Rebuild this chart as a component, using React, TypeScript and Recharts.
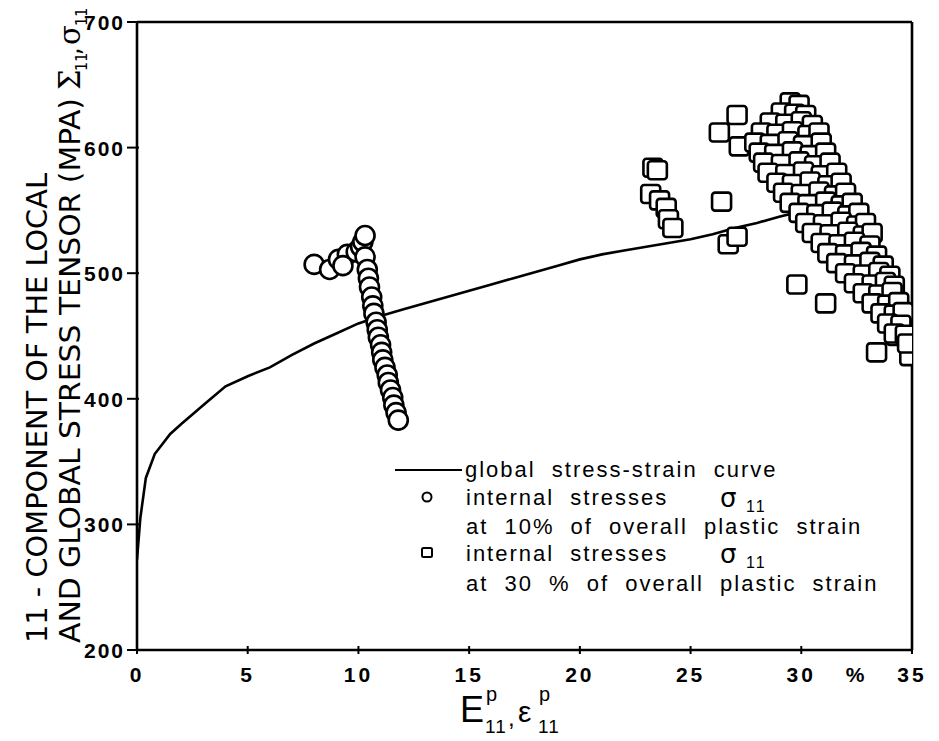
import { ComposedChart, Line, Scatter, XAxis, YAxis, ReferenceLine, Label } from 'recharts';

// global stress-strain curve
const curveStrain = [0, 0.15, 0.4, 0.8, 1.5, 2, 3, 4, 5, 6, 7, 8, 9, 10, 11, 12, 13, 14, 15, 16, 17, 18, 19, 20, 21, 22, 23, 24, 25, 26, 27, 28, 29, 29.7];
const curveStress = [272, 305, 337, 356, 372, 380, 395, 410, 418, 425, 435, 444, 452, 460, 466, 471, 476, 481, 486, 491, 496, 501, 506, 511, 515, 518, 521, 524, 527, 531, 536, 540, 545, 548];

// internal stresses at 10 %
const circleStrain = [8.0, 8.7, 9.1, 9.5, 9.9, 10.1, 9.3, 10.2, 10.3, 10.3, 10.4, 10.45, 10.5, 10.6, 10.65, 10.7, 10.8, 10.85, 10.9, 11.0, 11.05, 11.1, 11.2, 11.3, 11.35, 11.45, 11.55, 11.6, 11.7, 11.8];
const circleStress = [507, 503, 511, 515, 517, 521, 506, 525, 530, 513, 503, 496, 489, 481, 474, 468, 461, 455, 449, 443, 437, 431, 425, 419, 413, 407, 401, 395, 389, 383];

// internal stresses at 30 %
const squareStrain = [
  23.3, 23.5, 23.2, 23.6, 23.9, 24.0, 24.2, 26.3, 26.4, 26.7, 27.1, 27.1, 27.2, 29.8, 31.1, 33.4, 34.3, 34.9, 35.0,
  29.5, 29.9,
  29.1, 29.7, 30.2,
  28.6, 29.3, 30.0, 30.5,
  28.2, 28.9, 29.6, 30.3, 30.8,
  27.9, 28.6, 29.4, 30.1, 30.9,
  28.1, 28.8, 29.6, 30.4, 31.1,
  28.3, 29.1, 29.9, 30.6, 31.3,
  28.5, 29.3, 30.1, 30.9, 31.6,
  28.9, 29.6, 30.4, 31.2, 31.8,
  29.2, 30.0, 30.8, 31.5, 32.0,
  29.5, 30.3, 31.1, 31.8, 32.3,
  29.9, 30.7, 31.4, 32.1, 32.6,
  30.2, 31.0, 31.8, 32.5, 32.9,
  30.5, 31.3, 32.1, 32.8, 33.2,
  30.9, 31.7, 32.4, 33.1,
  31.2, 32.0, 32.7, 33.4,
  31.6, 32.4, 33.1, 33.7,
  32.0, 32.8, 33.5, 34.0,
  32.4, 33.2, 33.8, 34.2,
  32.8, 33.5, 34.1,
  33.2, 33.9, 34.4,
  33.6, 34.2, 34.6,
  33.9, 34.5,
  34.2, 34.7,
  34.8,
];
const squareStress = [
  584, 582, 563, 558, 552, 543, 536, 612, 557, 523, 529, 626, 601, 491, 476, 437, 450, 434, 448,
  636, 634,
  628, 627, 626,
  620, 619, 621, 618,
  612, 611, 613, 610, 612,
  604, 603, 605, 602, 604,
  596, 595, 597, 594, 596,
  588, 587, 589, 586, 588,
  580, 579, 581, 578, 580,
  572, 571, 573, 570, 572,
  564, 563, 565, 562, 564,
  556, 555, 557, 554, 556,
  548, 547, 549, 546, 548,
  540, 539, 541, 538, 540,
  532, 531, 533, 530, 532,
  524, 523, 525, 522,
  516, 515, 517, 514,
  508, 507, 509, 506,
  500, 499, 501, 498,
  492, 491, 493, 490,
  484, 483, 485,
  476, 475, 477,
  468, 467, 469,
  460, 459,
  452, 451,
  444,
];

const xTicks = [0, 5, 10, 15, 20, 25, 30, 32.5, 35];
const yTicks = [200, 300, 400, 500, 600, 700];

const curve = curveStrain.map((strain, i) => ({ strain, stress: curveStress[i] }));
const circles = circleStrain.map((strain, i) => ({ strain, stress: circleStress[i] }));
const squares = squareStrain.map((strain, i) => ({ strain, stress: squareStress[i] }));

const FONT = '"Liberation Sans", Arial, Helvetica, sans-serif';
const NARROW = '"Liberation Sans Narrow", "DejaVu Sans Condensed", "Liberation Sans", sans-serif';

const XTick = (props: any) => {
  const { x, y, payload } = props;
  const pct = payload.value === 32.5;
  return (
    <g>
      {!pct && <line x1={x} x2={x} y1={y - 12} y2={y - 4} stroke="#000" strokeWidth={2} />}
      <text x={x} y={y + 24} textAnchor="middle" fontSize={21} fontWeight="bold" letterSpacing={3} fontFamily={FONT} fill="#000">
        {pct ? '%' : payload.value}
      </text>
    </g>
  );
};

const YTick = (props: any) => {
  const { x, y, payload } = props;
  return (
    <g>
      <line x1={x - 2} x2={x + 10} y1={y} y2={y} stroke="#000" strokeWidth={2} />
      <text x={x - 4} y={y + 8} textAnchor="end" fontSize={21} fontWeight="bold" letterSpacing={2} fontFamily={FONT} fill="#000">
        {payload.value}
      </text>
    </g>
  );
};

const Circle = (props: any) => (
  <circle cx={props.cx} cy={props.cy} r={9.5} fill="#fff" stroke="#000" strokeWidth={2.6} />
);

const Square = (props: any) => (
  <rect x={props.cx - 9.5} y={props.cy - 9} width={19} height={18} rx={3} fill="#fff" stroke="#000" strokeWidth={2.6} />
);

const YTitle = () => (
  <g fontFamily={NARROW} fill="#000">
    <text transform="translate(47,643) rotate(-90)" fontSize={29} textLength={470} lengthAdjust="spacingAndGlyphs">
      11 - COMPONENT OF THE LOCAL
    </text>
    <text transform="translate(80,643) rotate(-90)" fontSize={29} textLength={545} lengthAdjust="spacingAndGlyphs">
      AND GLOBAL STRESS TENSOR (MPA)
    </text>
    <g transform="translate(80,90) rotate(-90)">
      <text x={0} y={0} fontSize={29} fontFamily="DejaVu Serif, serif">Σ</text>
      <text x={19} y={7} fontSize={16}>11</text>
      <text x={35} y={0} fontSize={26}>,</text>
      <text x={45} y={0} fontSize={29} fontFamily="DejaVu Serif, serif">σ</text>
      <text x={64} y={7} fontSize={16}>11</text>
    </g>
  </g>
);

const XTitle = () => (
  <g fontFamily={FONT} fill="#000">
    <text x={460} y={722} fontSize={36}>E</text>
    <text x={486} y={701} fontSize={20}>p</text>
    <text x={485} y={733} fontSize={19} letterSpacing={1}>11</text>
    <text x={508} y={726} fontSize={24}>,</text>
    <text x={518} y={722} fontSize={30}>ε</text>
    <text x={539} y={701} fontSize={20}>p</text>
    <text x={538} y={733} fontSize={19} letterSpacing={1}>11</text>
  </g>
);

const LegendBox = () => {
  const t = { fontSize: 22, fontFamily: FONT, fill: '#000', wordSpacing: 8, letterSpacing: 2 } as any;
  const sig = { fontSize: 26, fontFamily: 'DejaVu Sans, sans-serif', fill: '#000' } as any;
  const sub = { fontSize: 16, fontFamily: FONT, fill: '#000', letterSpacing: 2 } as any;
  return (
    <g>
      <line x1={395} x2={462} y1={470} y2={470} stroke="#000" strokeWidth={2.2} />
      <text x={465} y={477} {...t}>global stress-strain curve</text>
      <circle cx={427} cy={497} r={4.5} fill="#fff" stroke="#000" strokeWidth={2} />
      <text x={466} y={505} {...t}>internal stresses</text>
      <text x={720} y={507} {...sig}>σ</text>
      <text x={746} y={512} {...sub}>11</text>
      <text x={466} y={534} {...t}>at 10% of overall plastic strain</text>
      <rect x={422} y={548} width={10} height={9} rx={1.5} fill="#fff" stroke="#000" strokeWidth={2} />
      <text x={466} y={561} {...t}>internal stresses</text>
      <text x={720} y={563} {...sig}>σ</text>
      <text x={746} y={568} {...sub}>11</text>
      <text x={466} y={591} {...t}>at 30 % of overall plastic strain</text>
    </g>
  );
};

export default function App() {
  return (
    <div style={{ position: 'absolute', left: 0, top: 0, width: 939, height: 741, background: '#fff' }}>
      <ComposedChart width={939} height={741} margin={{ top: 22, right: 27, bottom: 0, left: 0 }}>
        <XAxis
          dataKey="strain"
          type="number"
          domain={[0, 35]}
          ticks={xTicks}
          interval={0}
          height={91}
          axisLine={{ stroke: '#000', strokeWidth: 2.6 }}
          tickLine={false}
          tick={<XTick />}
          allowDataOverflow
        >
          <Label content={<XTitle />} />
          <Label content={<LegendBox />} />
        </XAxis>
        <YAxis
          type="number"
          domain={[200, 700]}
          ticks={yTicks}
          interval={0}
          width={137}
          axisLine={{ stroke: '#000', strokeWidth: 2.6 }}
          tickLine={false}
          tick={<YTick />}
          allowDataOverflow
        >
          <Label content={<YTitle />} />
        </YAxis>
        <ReferenceLine y={700} stroke="#000" strokeWidth={2.6} />
        <ReferenceLine x={35} stroke="#000" strokeWidth={2.6} />
        <Line data={curve} dataKey="stress" type="linear" stroke="#000" strokeWidth={2.6} dot={false} isAnimationActive={false} />
        <Scatter data={circles} dataKey="stress" shape={<Circle />} isAnimationActive={false} />
        <Scatter data={squares} dataKey="stress" shape={<Square />} isAnimationActive={false} />
      </ComposedChart>
    </div>
  );
}
